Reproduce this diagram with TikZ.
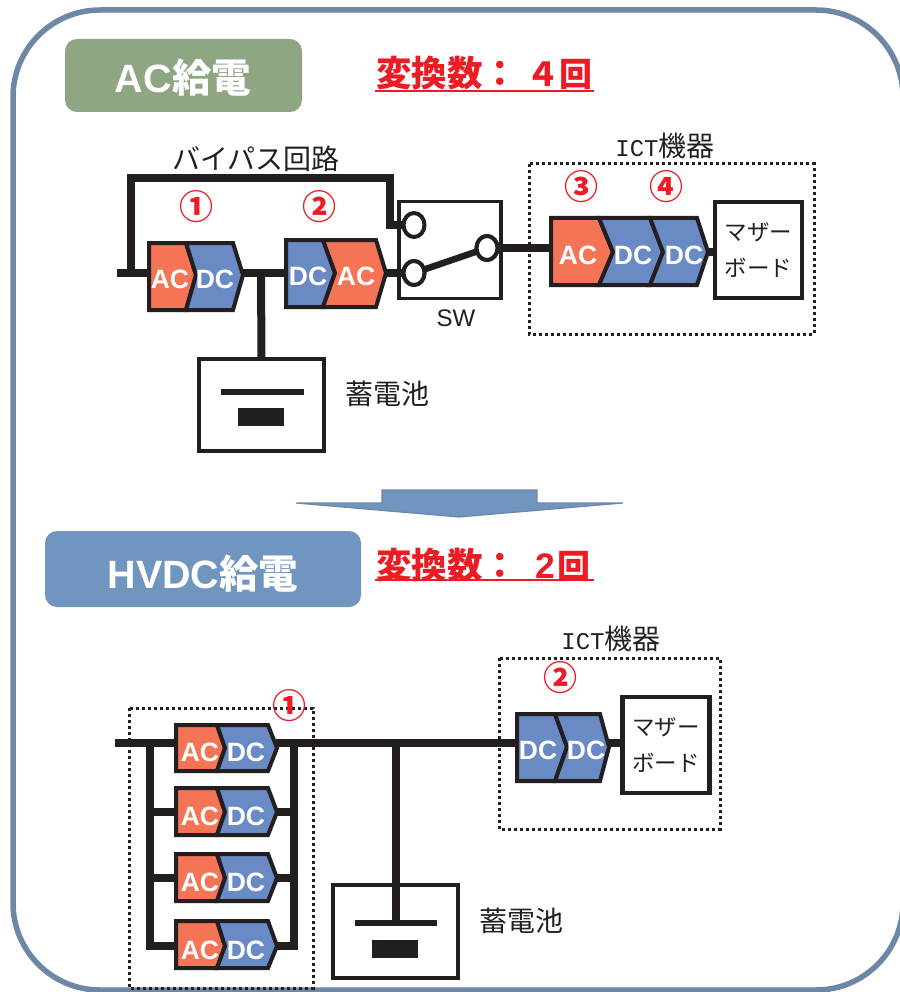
\documentclass[tikz,border=0pt]{standalone}
\usepackage{fontspec}
\setmainfont{Liberation Sans}
\newfontfamily\cjk{Noto Sans CJK JP}
\newfontfamily\monof{Liberation Mono}
\usetikzlibrary{shapes.geometric}
\definecolor{ink}{HTML}{231F20}
\definecolor{orangeC}{HTML}{F47455}
\definecolor{blueC}{HTML}{6A8AC6}
\definecolor{frameC}{HTML}{6E87A6}
\definecolor{greenC}{HTML}{8FA682}
\definecolor{pillB}{HTML}{7096C0}
\definecolor{redC}{HTML}{ED1C24}
\newcommand\fsz[1]{\fontsize{#1}{#1}\selectfont}
\tikzset{
  wire/.style={draw=ink,line width=8pt,line join=miter},
  convpart/.style={draw=ink,line width=4pt,line join=miter,miter limit=8},
  convtext/.style={text=white,font=\bfseries\fsz{26.5},inner sep=0pt},
  boxn/.style={draw=ink,fill=white,line width=3.8pt,inner sep=0pt,outer sep=0pt},
  mboard/.style={draw=ink,fill=white,line width=4.6pt,inner sep=0pt,outer sep=0pt,align=center,text=ink,font=\cjk\fsz{22.5}},
  dotbox/.style={draw=ink,line width=3pt,dash pattern=on 3pt off 3pt},
  swc/.style={ellipse,draw=ink,fill=white,line width=4pt,minimum width=21pt,minimum height=24pt,inner sep=0pt,outer sep=0pt},
  blabel/.style={text=ink,font=\cjk\fsz{28},inner sep=0pt},
  num/.style={text=redC,font=\cjk\bfseries\fsz{34},inner sep=0pt},
  pill/.style={rounded corners=12pt,inner sep=0pt,outer sep=0pt},
  pilltext/.style={text=white,inner sep=0pt,font=\bfseries\fsz{39.5}},
  redt/.style={text=redC,font=\cjk\bfseries\fsz{35.5},inner sep=0pt,anchor=west},
  redline/.style={draw=redC,line width=2.6pt},
}
% x0, shoulder, tip, top, bottom, mid, colour
\newcommand\pentpart[7]{\path[convpart,fill=#7] (#1,#4) -- (#2,#4) -- (#3,#6) -- (#2,#5) -- (#1,#5) -- cycle;}
% shoulderA, tipA, shoulderB, tipB, top, bottom, mid, colour
\newcommand\chevpart[8]{\path[convpart,fill=#8] (#1,#5) -- (#3,#5) -- (#4,#7) -- (#3,#6) -- (#1,#6) -- (#2,#7) -- cycle;}
% AC/DC small unit in the parallel bank: name, top, bottom, mid
\newcommand\bankunit[4]{%
  \pentpart{176}{217}{225}{#2}{#3}{#4}{orangeC}
  \chevpart{217}{225}{268}{277}{#2}{#3}{#4}{blueC}
  \node[convtext] (#1ac) at (200,#4+4) {AC};
  \node[convtext] (#1dc) at (246,#4+4) {DC};
}
\begin{document}
\begin{tikzpicture}[x=1pt,y=-1pt]
\useasboundingbox (0,0) rectangle (899,992);
\fill[white] (0,0) rectangle (899,992);
\draw[frameC,line width=5.5pt,rounded corners=87pt] (13,10) rectangle (903,990);

% ---- titles
\node[pill,fill=greenC,minimum width=237pt,minimum height=73pt] (titleA) at (183.5,75.5) {};
\node[pilltext] (titleAt) at (183,78) {AC{\cjk\bfseries 給電}};
\node[pill,fill=pillB,minimum width=316pt,minimum height=76pt] (titleB) at (203,569) {};
\node[pilltext] (titleBt) at (203,574) {HVDC{\cjk\bfseries 給電}};
\node[redt] (countA) at (376,73) {変換数：\hspace{8pt}{\fsz{33}４}{\fsz{33}回}};
\node[redt] (countB) at (376,565) {変換数：\hspace{17pt}{\fontspec{Liberation Sans}\bfseries 2}\hspace{3pt}{\fsz{33}回}};
\draw[redline] (375,91) -- (594,91);
\draw[redline] (375,580) -- (594,580);

% ---- upper section: anchors
\coordinate (inA) at (117,273);
\coordinate (tapA) at (131,273);
\coordinate (cv1in) at (150,273);
\coordinate (cv1out) at (243,273);
\coordinate (cv2in) at (286,273);
\coordinate (cv2out) at (386,273);
\coordinate (busA) at (261,273);
\coordinate (byA) at (131,178);
\coordinate (byB) at (390,178);
\coordinate (byC) at (390,225);
\coordinate (ictA) at (552,250);
\coordinate (boardIn) at (708,252);

\node[boxn,minimum width=102pt,minimum height=97pt] (sw) at (450,250) {};
\node[swc] (swA) at (414,225) {};
\node[swc] (swB) at (414,273) {};
\node[swc] (swC) at (487,248) {};
\node[boxn,minimum width=125pt,minimum height=92pt] (batt1) at (261.5,405) {};

\draw[wire] (inA) -- (cv1in);
\draw[wire] (cv1out) -- (cv2in);
\draw[wire] (cv2out) -- (swB.west);
\draw[wire] (busA) -- (batt1.north);
\draw[wire] (tapA) -- (byA) -- (byB) -- (byC) -- (swA.west);
\draw[wire,line width=6.5pt] (swB) -- (swC);
\node[swc] at (swB) {};
\node[swc] at (swC) {};
\draw[wire] (swC.east) -- (swC.east -| ictA);
\draw[draw=ink,line width=5.5pt] (221,392) -- (304,392);
\node[fill=ink,minimum width=46pt,minimum height=18pt,inner sep=0pt] (cellA) at (261,417) {};

\pentpart{149}{186}{196}{243}{310}{275}{orangeC}
\chevpart{186}{196}{233}{243}{243}{310}{275}{blueC}
\node[convtext] (t1a) at (170,279) {AC};
\node[convtext] (t1b) at (215,279) {DC};
\pentpart{286}{323}{335}{240}{307}{273}{blueC}
\chevpart{323}{335}{376}{386}{240}{307}{273}{orangeC}
\node[convtext] (t2a) at (308,276) {DC};
\node[convtext] (t2b) at (356,276) {AC};

\node[blabel] (lbyp) at (256,159) {バイパス回路};
\node[blabel,font=\fsz{24}] (lsw) at (456,318) {SW};
\node[blabel] (lbat1) at (387,394) {蓄電池};
\node[num] (n1) at (196,207) {①};
\node[num] (n2) at (319,207) {②};

% ICT upper
\draw[dotbox] (529,164) rectangle (814,334);
\node[blabel] (lict1) at (665,146) {{\monof\fsz{24}ICT}機器};
\node[num] (n3) at (581,187) {③};
\node[num] (n4) at (666,187) {④};
\node[mboard,minimum width=87pt,minimum height=96pt] (mb1) at (758.5,250) {マザー\\[13pt]ボード};
\draw[wire] (boardIn) -- (mb1.west |- boardIn);
\pentpart{551}{599}{613}{218}{285}{252}{orangeC}
\chevpart{599}{613}{650}{663}{218}{285}{252}{blueC}
\chevpart{650}{663}{697}{708}{218}{285}{252}{blueC}
\node[convtext] (t3a) at (578,255) {AC};
\node[convtext] (t3b) at (633,255) {DC};
\node[convtext] (t3c) at (684,255) {DC};

% arrow
\path[draw=frameC,fill=pillB,line width=1.2pt,line join=miter] (382,490) -- (537,490) -- (537,503) -- (623,503) -- (459,517) -- (296,503) -- (382,503) -- cycle;

% ---- lower section
\coordinate (inB) at (115,743);
\coordinate (bankL) at (150,743);
\coordinate (bankLb) at (150,946);
\coordinate (bankR) at (294,743);
\coordinate (bankRb) at (294,946);
\coordinate (busB) at (396,743);
\coordinate (busBe) at (396,923);
\coordinate (ictB) at (518,743);
\coordinate (ictBo) at (608,743);
\coordinate (r1L) at (176,743);
\coordinate (r1R) at (276,743);
\coordinate (r2L) at (150,812) ; \coordinate (r2La) at (178,812);
\coordinate (r2R) at (294,812) ; \coordinate (r2Ra) at (276,812);
\coordinate (r3L) at (150,878) ; \coordinate (r3La) at (178,878);
\coordinate (r3R) at (294,878) ; \coordinate (r3Ra) at (276,878);
\coordinate (r4La) at (178,946);
\coordinate (r4Ra) at (276,946);

\draw[dotbox] (129,708) rectangle (313,988);
\node[boxn,minimum width=125pt,minimum height=93pt] (batt2) at (395.5,931.5) {};
\draw[wire] (inB) -- (r1L);
\draw[wire] (r1R) -- (ictB);
\draw[wire] (bankL) -- (bankLb) -- (r4La);
\draw[wire] (bankR) -- (bankRb) -- (r4Ra);
\draw[wire] (r2L) -- (r2La);
\draw[wire] (r3L) -- (r3La);
\draw[wire] (r2R) -- (r2Ra);
\draw[wire] (r3R) -- (r3Ra);
\draw[wire] (busB) -- (busBe);
\draw[draw=ink,line width=5.5pt] (355,923) -- (437,923);
\node[fill=ink,minimum width=46pt,minimum height=18pt,inner sep=0pt] (cellB) at (395,949) {};

\bankunit{u1}{725}{771}{748}
\bankunit{u2}{788}{835}{812}
\bankunit{u3}{854}{901}{878}
\bankunit{u4}{921}{968}{946}
\node[num] (n5) at (289,706) {①};
\node[blabel] (lbat2) at (521,921) {蓄電池};

\draw[dotbox] (499,658) rectangle (720,829);
\node[blabel] (lict2) at (611,639) {{\monof\fsz{24}ICT}機器};
\node[num] (n6) at (560,678) {②};
\node[mboard,minimum width=87pt,minimum height=96pt] (mb2) at (666,745) {マザー\\[13pt]ボード};
\draw[wire] (ictBo) -- (mb2.west |- ictBo);
\pentpart{517}{555}{567}{714}{781}{747}{blueC}
\chevpart{555}{567}{600}{609}{714}{781}{747}{blueC}
\node[convtext] (t4a) at (538,750) {DC};
\node[convtext] (t4b) at (586,750) {DC};
\end{tikzpicture}
\end{document}
